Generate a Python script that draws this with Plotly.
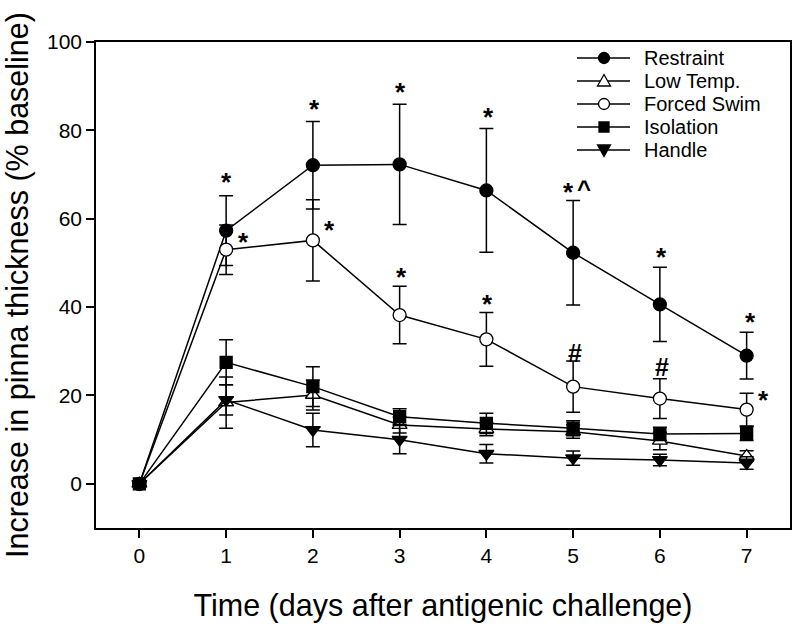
import plotly.graph_objects as go

days = [0, 1, 2, 3, 4, 5, 6, 7]
tick_labels = ["0", "1", "2", "3", "4", "5", "6", "7"]

restraint = [0, 57.3, 72.1, 72.3, 66.4, 52.3, 40.6, 29.0]
restraint_err = [0.5, 7.9, 9.9, 13.6, 14.0, 11.8, 8.4, 5.3]
low_temp = [0, 18.4, 20.1, 13.3, 12.4, 11.8, 9.7, 6.3]
low_temp_err = [0.5, 5.8, 3.4, 1.8, 1.5, 1.5, 2.0, 1.2]
forced_swim = [0, 53.0, 55.1, 38.2, 32.7, 22.0, 19.3, 16.8]
forced_swim_err = [0.5, 5.6, 9.2, 6.5, 6.1, 5.8, 4.5, 3.7]
isolation = [0, 27.5, 22.0, 15.2, 13.7, 12.6, 11.3, 11.4]
isolation_err = [0.5, 5.1, 4.5, 1.8, 2.3, 1.7, 1.5, 1.6]
handle = [0, 19.0, 12.2, 10.0, 6.8, 5.8, 5.4, 4.7]
handle_err = [0.5, 3.4, 3.8, 3.2, 2.1, 1.6, 1.3, 1.4]

series_names = ["Restraint", "Low Temp.", "Forced Swim", "Isolation", "Handle"]
series_values = [restraint, low_temp, forced_swim, isolation, handle]
series_errors = [restraint_err, low_temp_err, forced_swim_err, isolation_err, handle_err]

# significance marks: (day, value, text)
sig_marks = [
    (1.0, 69.2, "*"), (1.2, 55.7, "*"),
    (2.02, 85.7, "*"), (2.19, 58.4, "*"),
    (3.01, 89.6, "*"), (3.02, 47.7, "*"),
    (4.03, 83.9, "*"), (4.01, 41.6, "*"),
    (4.95, 67.0, "*"), (5.13, 67.0, "^"),
    (5.02, 29.6, "#"),
    (6.02, 52.3, "*"), (6.02, 26.5, "#"),
    (7.04, 37.6, "*"), (7.19, 19.9, "*"),
]

FONT = "Liberation Sans, Arial, sans-serif"
INK = "#000000"
styles = {
    "Restraint": dict(symbol="circle", color=INK, size=13),
    "Low Temp.": dict(symbol="triangle-up", color="white", size=13),
    "Forced Swim": dict(symbol="circle", color="white", size=13),
    "Isolation": dict(symbol="square", color=INK, size=12),
    "Handle": dict(symbol="triangle-down", color=INK, size=13),
}

fig = go.Figure()
for name, vals, errs in zip(series_names, series_values, series_errors):
    st = styles[name]
    fig.add_trace(go.Scatter(
        x=days, y=vals, name=name, mode="lines+markers",
        line=dict(color=INK, width=1.5),
        marker=dict(symbol=st["symbol"], color=st["color"], size=st["size"],
                    line=dict(color=INK, width=1.3)),
        error_y=dict(type="data", array=errs, visible=True, color=INK,
                     thickness=1.5, width=7),
        showlegend=False,
    ))

mark_style = {"*": dict(size=26, shift=-4), "^": dict(size=24, shift=-1), "#": dict(size=25, shift=0)}
for x, y, t in sig_marks:
    ms = mark_style[t]
    fig.add_annotation(x=x, y=y, text="<b>%s</b>" % t, showarrow=False,
                       yshift=ms["shift"],
                       font=dict(family=FONT, size=ms["size"], color=INK),
                       xref="x", yref="y")

# custom legend (layout-level, paper coordinates)
row_px = [58, 81, 104, 127, 150]
top, bottom, left, right = 42, 528, 96, 790
def px_x(p):
    return (p - left) / (right - left)
def px_y(p):
    return (bottom - p) / (bottom - top)

tri_up = "M -6.5 -5 L 6.5 -5 L 0 6.5 Z"
tri_dn = "M -6.5 5 L 6.5 5 L 0 -6.5 Z"
shapes = []
for name, py in zip(series_names, row_px):
    st = styles[name]
    yp = px_y(py)
    shapes.append(dict(type="line", xref="paper", yref="paper",
                       x0=px_x(577), x1=px_x(630), y0=yp, y1=yp,
                       line=dict(color=INK, width=1.5)))
    common = dict(xref="paper", yref="paper", xsizemode="pixel", ysizemode="pixel",
                  xanchor=px_x(604), yanchor=yp, fillcolor=st["color"],
                  line=dict(color=INK, width=1.3))
    if st["symbol"] == "circle":
        shapes.append(dict(type="circle", x0=-5.5, x1=5.5, y0=-5.5, y1=5.5, **common))
    elif st["symbol"] == "square":
        shapes.append(dict(type="rect", x0=-5, x1=5, y0=-5, y1=5, **common))
    elif st["symbol"] == "triangle-up":
        shapes.append(dict(type="path", path=tri_up, **common))
    else:
        shapes.append(dict(type="path", path=tri_dn, **common))
    fig.add_annotation(x=px_x(642), y=yp, xref="paper", yref="paper",
                       text=name, showarrow=False, xanchor="left", yanchor="middle",
                       font=dict(family=FONT, size=20, color=INK))

fig.update_layout(
    width=800, height=635,
    margin=dict(l=96, r=10, t=42, b=107),
    paper_bgcolor="white", plot_bgcolor="white",
    font=dict(family=FONT, color=INK, size=21),
    shapes=shapes,
)
fig.update_xaxes(
    range=[-0.5, 7.5], tickmode="array", tickvals=days, ticktext=tick_labels,
    showline=True, linecolor=INK, linewidth=1.5, mirror=True,
    ticks="outside", ticklen=8, tickwidth=1.5, tickcolor=INK,
    showgrid=False, zeroline=False, automargin=False,
    tickfont=dict(size=21, family=FONT),
    title=dict(text="Time (days after antigenic challenge)",
               font=dict(size=30.5, family=FONT), standoff=29),
)
fig.update_yaxes(
    range=[-10, 100], tickmode="array", tickvals=[0, 20, 40, 60, 80, 100],
    showline=True, linecolor=INK, linewidth=1.5, mirror=True,
    ticks="outside", ticklen=8, tickwidth=1.5, tickcolor=INK,
    showgrid=False, zeroline=False, automargin=False,
    tickfont=dict(size=21, family=FONT),
    title=dict(text="Increase in pinna thickness (% baseline)",
               font=dict(size=30.5, family=FONT), standoff=14),
)

fig.write_html("out.html", config={"displayModeBar": False},
               post_script="document.body.style.margin='0';document.body.style.padding='0';")
